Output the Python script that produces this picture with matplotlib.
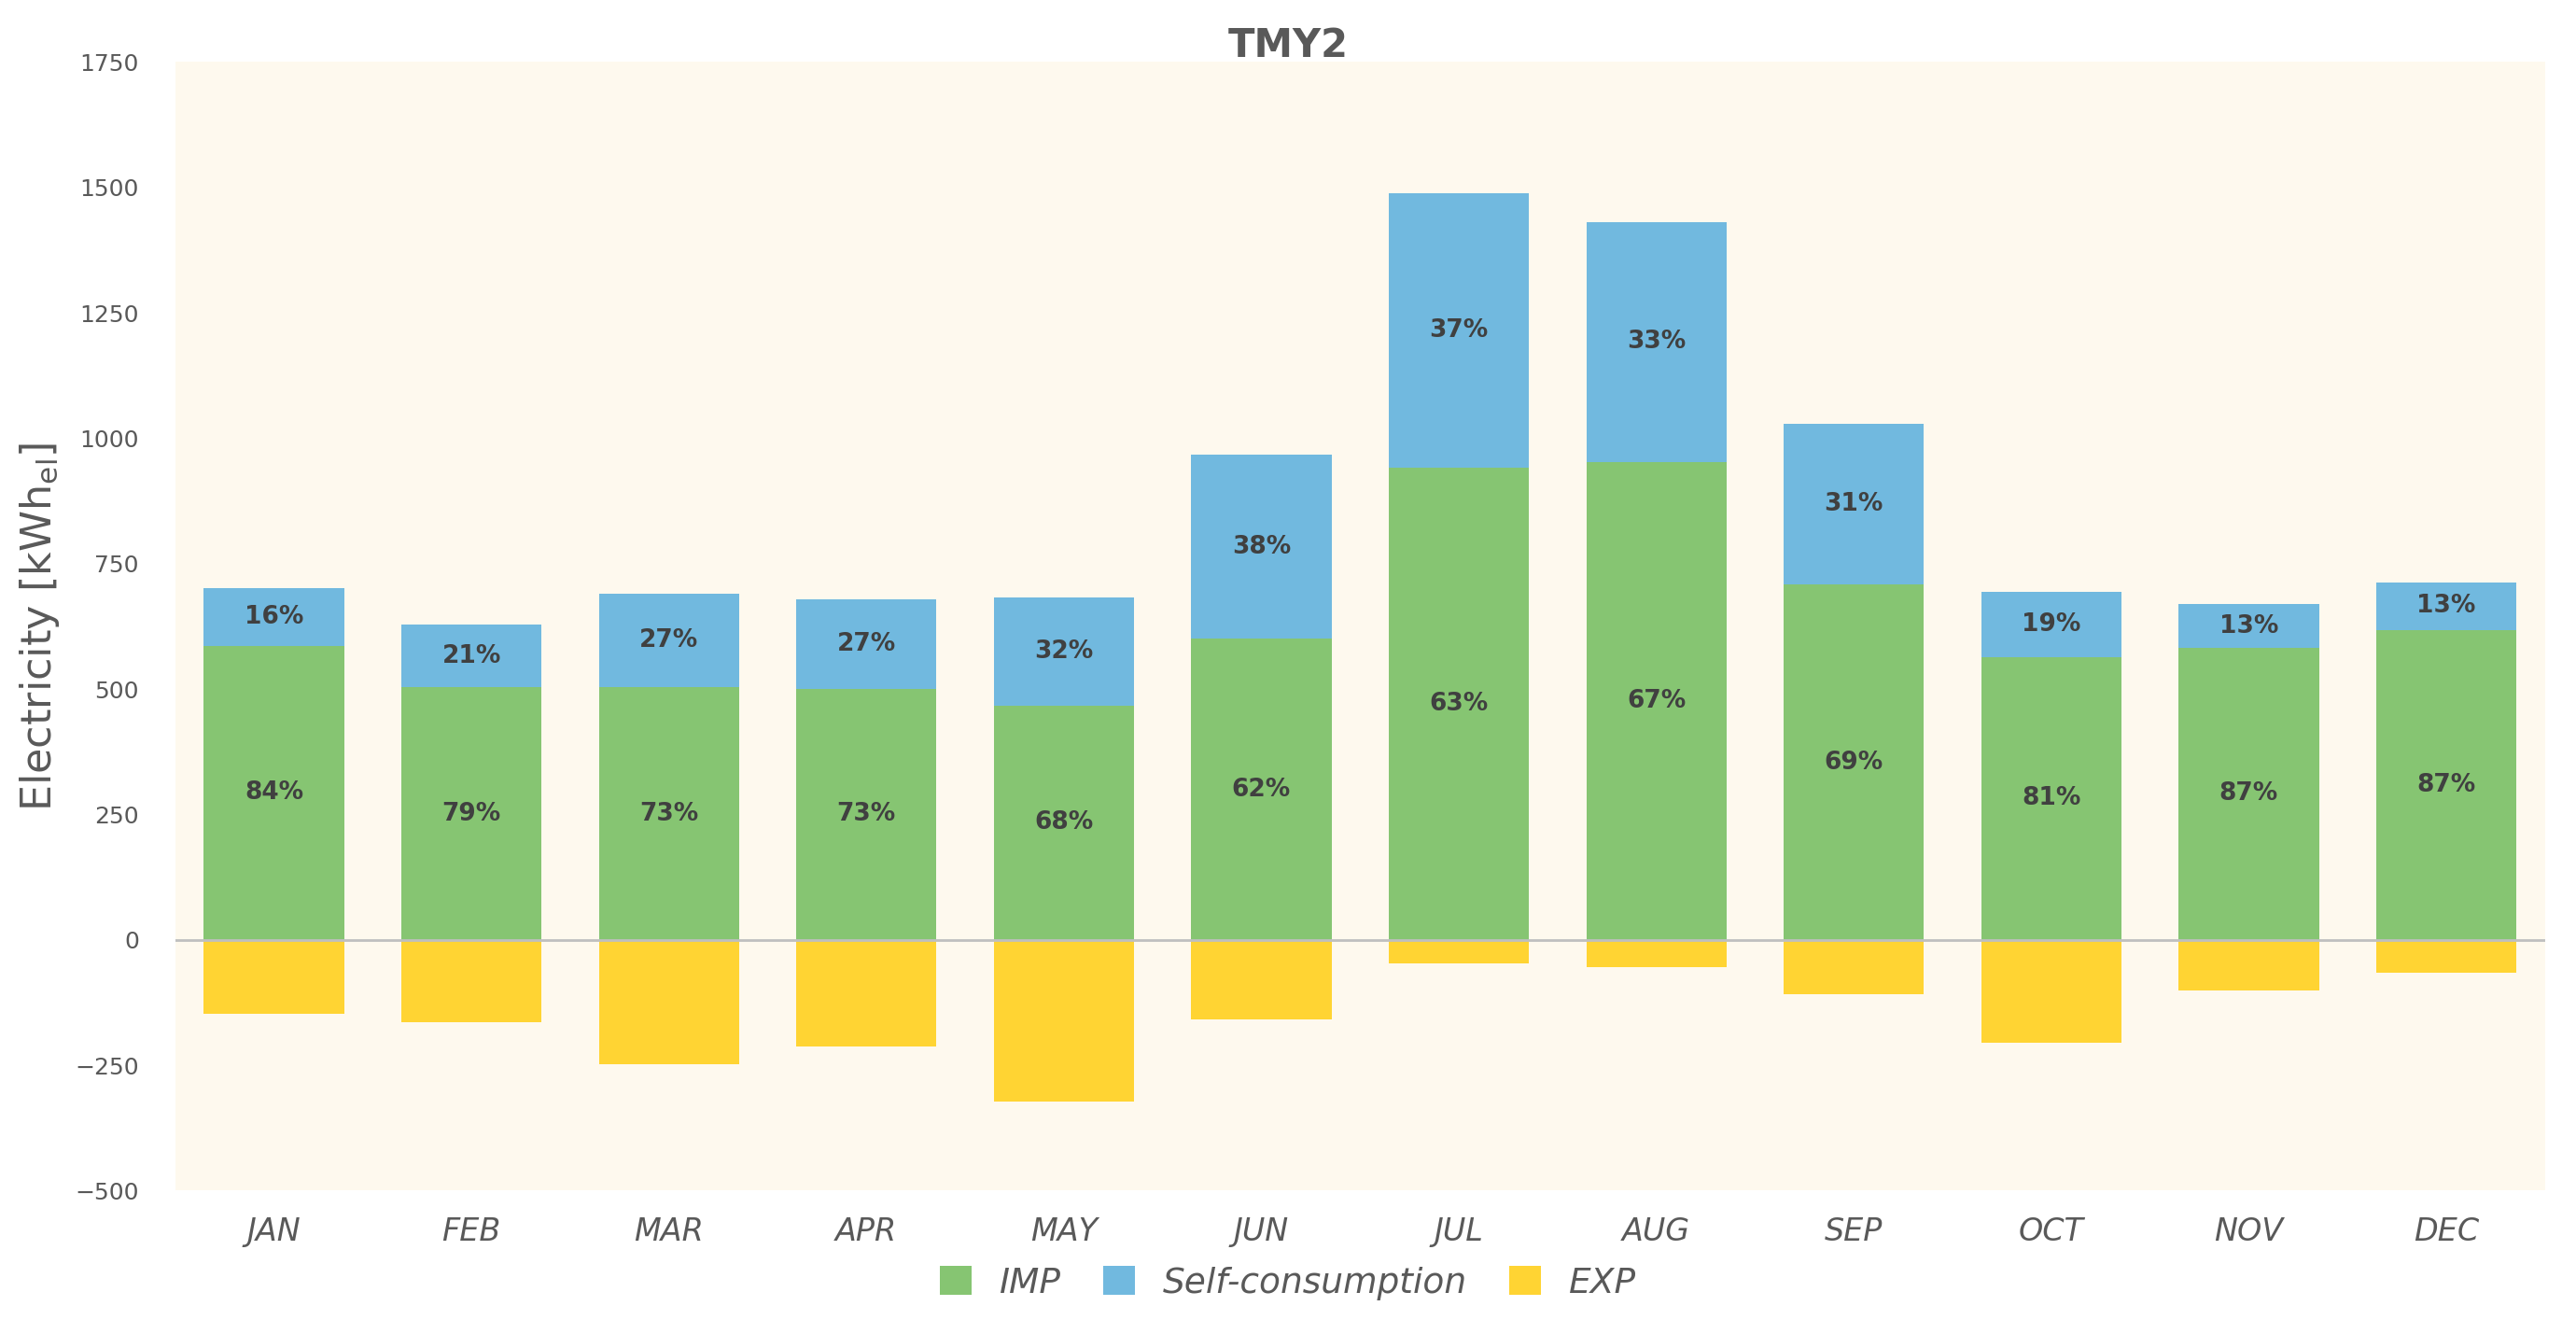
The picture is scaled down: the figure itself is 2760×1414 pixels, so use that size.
import matplotlib.pyplot as plt
import numpy as np

months = ["JAN","FEB","MAR","APR","MAY","JUN","JUL","AUG","SEP","OCT","NOV","DEC"]
imp = [586, 503, 503, 500, 467, 600, 942, 953, 708, 564, 582, 618]
selfc = [115, 126, 187, 179, 216, 367, 546, 478, 320, 130, 87, 94]
exp_ = [-147, -165, -248, -212, -323, -158, -47, -54, -108, -205, -101, -65]
imp_pct = ["84%","79%","73%","73%","68%","62%","63%","67%","69%","81%","87%","87%"]
self_pct = ["16%","21%","27%","27%","32%","38%","37%","33%","31%","19%","13%","13%"]

fig = plt.figure(figsize=(27.6, 14.14), dpi=100)
ax = fig.add_axes([0.068, 0.098, 0.92, 0.855])
ax.set_facecolor("#FEF9EE")
x = np.arange(len(months))
w = 0.71
ax.bar(x, imp, w, color="#86C572", label="IMP", zorder=2)
ax.bar(x, selfc, w, bottom=imp, color="#71B9DF", label="Self-consumption", zorder=2)
ax.bar(x, exp_, w, color="#FFD433", label="EXP", zorder=2)
for i in range(len(x)):
    ax.text(x[i], imp[i]/2, imp_pct[i], ha="center", va="center", fontsize=19, fontweight="bold", color="#404040", zorder=3)
    ax.text(x[i], imp[i]+selfc[i]/2, self_pct[i], ha="center", va="center", fontsize=19, fontweight="bold", color="#404040", zorder=3)
ax.axhline(0, color="#BFBFBF", lw=2, zorder=2)
ax.set_ylim(-500, 1750)
ax.set_xlim(-0.5, 11.5)
ax.set_yticks(range(-500, 1751, 250))
ax.tick_params(axis="y", labelsize=18, colors="#595959", length=0, pad=28)
ax.tick_params(axis="x", labelsize=24, colors="#595959", length=0, pad=20)
ax.set_xticks(x)
ax.set_xticklabels(months, fontstyle="italic")
for s in ax.spines.values():
    s.set_visible(False)
ax.set_ylabel("Electricity [kWh$_{\\mathregular{el}}$]", fontsize=32, color="#595959", labelpad=10)
fig.text(0.5, 0.965, "TMY2", ha="center", va="center", fontsize=30, fontweight="bold", color="#595959")
leg = fig.legend(loc="center", bbox_to_anchor=(0.5, 0.028), ncol=3, frameon=False,
                 prop={"size": 27, "style": "italic"}, handlelength=0.9, handleheight=0.9, columnspacing=1.2)
for t in leg.get_texts():
    t.set_color("#595959")
fig.savefig("out.png")
